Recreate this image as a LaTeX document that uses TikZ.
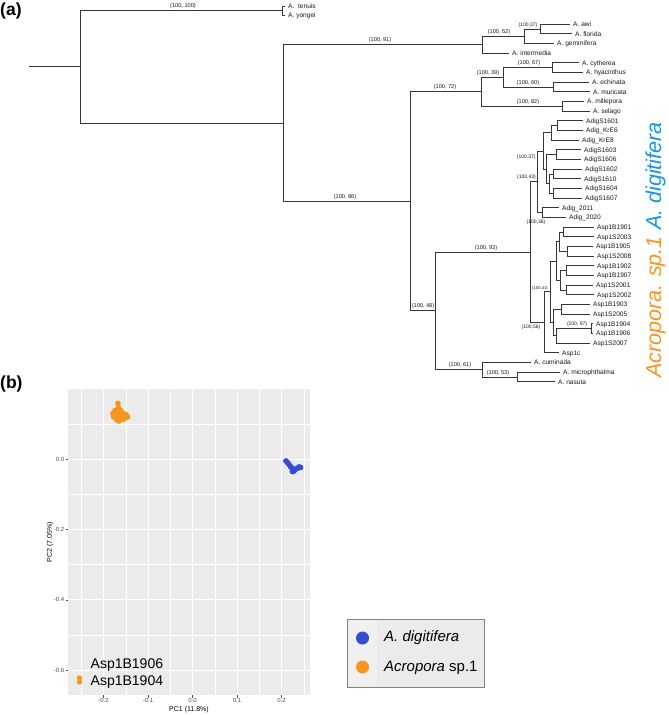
\documentclass[tikz,border=0pt]{standalone}
\usepackage{fontspec}
\setmainfont{Liberation Sans}
\definecolor{treeline}{RGB}{55,55,55}
\definecolor{leaftext}{RGB}{25,25,25}
\definecolor{digiblue}{RGB}{20,150,235}
\definecolor{sporange}{RGB}{247,148,30}
\definecolor{ptblue}{RGB}{52,76,212}
\definecolor{ptorange}{RGB}{246,150,28}
\definecolor{panelgray}{RGB}{235,235,235}
\definecolor{keygray}{RGB}{240,240,240}
\definecolor{tickgray}{RGB}{77,77,77}
\definecolor{legborder}{RGB}{130,130,130}
\tikzset{
  br/.style={draw=treeline, line width=0.65pt},
  leaf/.style={anchor=west, inner xsep=3.5pt, inner ysep=0pt, text height=4.7pt, text depth=0pt, font=\fontsize{6.6}{7}\selectfont, text=leaftext},
  bs/.style={anchor=south, inner sep=0.5pt, font=\fontsize{5.6}{6}\selectfont, text=leaftext},
  bss/.style={bs, font=\fontsize{5}{5.5}\selectfont},
  bsxs/.style={bs, font=\fontsize{4.2}{4.5}\selectfont},
  cladelab/.style={rotate=90, anchor=base, inner sep=0pt, font=\fontsize{21.5}{24}\selectfont\itshape},
  panellab/.style={anchor=base west, inner sep=0pt, font=\fontsize{17.5}{20}\selectfont\bfseries},
  gmaj/.style={draw=white, line width=0.8pt},
  gmin/.style={draw=white, line width=0.35pt},
  tk/.style={draw=tickgray, line width=0.5pt},
  ticklab/.style={inner sep=0.5pt, font=\fontsize{6}{7}\selectfont, text=tickgray},
  axtitle/.style={inner sep=0pt, font=\fontsize{7}{8}\selectfont, text=black},
  pto/.style={fill=ptorange},
  ptb/.style={fill=ptblue},
  leglab/.style={anchor=base west, inner sep=0pt, font=\fontsize{15}{17}\selectfont},
  ptlab/.style={anchor=base west, inner sep=0pt, font=\fontsize{14}{16}\selectfont}
}
\begin{document}
\begin{tikzpicture}[x=1pt,y=-1pt]
\useasboundingbox (0,0) rectangle (669,715);
\fill[white] (0,0) rectangle (669,715);

% ---------- panel labels ----------
\node[panellab] (pa) at (0,15.5) {(a)};
\node[panellab] (pb) at (0,388) {(b)};

% ---------- tree: internal nodes ----------
\coordinate (root) at (29,66.7);
\coordinate (n80) at (80,66.7);
\coordinate (n282) at (282,10.5);
\coordinate (n283) at (283,122.9);
\coordinate (n482a) at (482,44.6);
\coordinate (n524) at (524,36.1);
\coordinate (n540) at (540,28.85);
\coordinate (n410) at (410,201.25);
\coordinate (n481) at (481,91.7);
\coordinate (n503) at (503,77.2);
\coordinate (n552) at (552,67.5);
\coordinate (n553) at (553,86.85);
\coordinate (n562) at (562,106.15);
\coordinate (n435) at (435,310.8);
\coordinate (n530) at (530,251.95);
\coordinate (n43) at (537,181.7);
\coordinate (n37) at (543,150.9);
\coordinate (nA) at (551,132.75);
\coordinate (n1) at (557,125.5);
\coordinate (nB) at (546,169);
\coordinate (n2) at (556,154.5);
\coordinate (n34) at (549,183.5);
\coordinate (n3) at (553,173.85);
\coordinate (n4) at (553,193.15);
\coordinate (n36) at (542,212.5);
\coordinate (n56b) at (544,322.2);
\coordinate (n41) at (550,291.65);
\coordinate (nU) at (556,260.85);
\coordinate (n56) at (559,241.5);
\coordinate (n5) at (563,231.85);
\coordinate (n6) at (567,251.15);
\coordinate (n78) at (560,280.2);
\coordinate (n7) at (566,270.5);
\coordinate (n8) at (566,289.85);
\coordinate (nL) at (553,322.45);
\coordinate (n9) at (561,309.15);
\coordinate (n10) at (556,335.75);
\coordinate (n97) at (591,328.5);
\coordinate (n482b) at (482,369.6);
\coordinate (n517) at (517,376.85);

% ---------- tree: leaves ----------
\foreach \n/\x/\y/\t in {
  tenuis/284.5/6/{A.\ \ tenuis}, yongei/284.5/15/A. yongei,
  awi/569.5/24.0/A. awi, florida/571.5/33.7/A. florida,
  gemmifera/553.5/43.3/A. gemmifera, intermedia/508.5/53.0/A. intermedia,
  cytherea/578.5/62.7/A. cytherea, hyacinthus/582.5/72.3/A. hyacinthus,
  echinata/588.5/82.0/A. echinata, muricata/589.5/91.7/A. muricata,
  millepora/583.5/101.3/A. millepora, selago/589.5/111.0/A. selago,
  s1601/582.5/120.7/AdigS1601, kre6/582.5/130.3/Adig\_KrE6,
  kre8/578.5/140.0/Adig\_KrE8, s1603/580.5/149.7/AdigS1603,
  s1606/580.5/159.3/AdigS1606, s1602/581.5/169.0/AdigS1602,
  s1610/580.5/178.7/AdigS1610, s1604/581.5/188.3/AdigS1604,
  s1607/581.5/198.0/AdigS1607, a2011/558.5/207.7/Adig\_2011,
  a2020/565.5/217.3/Adig\_2020, b1901/593.5/227.0/Asp1B1901,
  s2003/593.5/236.7/Asp1S2003, b1905/592.5/246.3/Asp1B1905,
  s2008/593.5/256.0/Asp1S2008, b1902/593.5/265.7/Asp1B1902,
  b1907/593.5/275.3/Asp1B1907, s2001/592.5/285.0/Asp1S2001,
  s2002/593.5/294.7/Asp1S2002, b1903/589.5/304.3/Asp1B1903,
  s2005/589.5/314.0/Asp1S2005, b1904/592.5/323.7/Asp1B1904,
  b1906/592.5/333.3/Asp1B1906, s2007/589.5/343.0/Asp1S2007,
  asp1c/558.5/352.7/Asp1c, cuminada/530.5/362.3/A. cuminada,
  microph/559.5/372.0/A. microphthalma, nasuta/554.5/381.7/A. nasuta}
  \node[leaf] (\n) at (\x,\y) {\t};

% ---------- tree: branches between internal nodes ----------
\foreach \p/\c in {root/n80, n80/n282, n80/n283, n283/n482a, n283/n410,
  n482a/n524, n524/n540, n410/n481, n410/n435, n481/n503, n481/n562,
  n503/n552, n503/n553, n435/n530, n435/n482b, n530/n43, n530/n56b,
  n43/n37, n43/n36, n37/nA, n37/nB, nA/n1, nB/n2, nB/n34, n34/n3, n34/n4,
  n56b/n41, n41/nU, n41/nL, nU/n56, nU/n78, n56/n5, n56/n6, n78/n7, n78/n8,
  nL/n9, nL/n10, n10/n97, n482b/n517}
  \draw[br] (\p) |- (\c);

% ---------- tree: branches to leaves ----------
\foreach \p/\c in {n282/tenuis, n282/yongei, n540/awi, n540/florida,
  n524/gemmifera, n482a/intermedia, n552/cytherea, n552/hyacinthus,
  n553/echinata, n553/muricata, n562/millepora, n562/selago,
  n1/s1601, n1/kre6, nA/kre8, n2/s1603, n2/s1606, n3/s1602, n3/s1610,
  n4/s1604, n4/s1607, n36/a2011, n36/a2020, n5/b1901, n5/s2003,
  n6/b1905, n6/s2008, n7/b1902, n7/b1907, n8/s2001, n8/s2002,
  n9/b1903, n9/s2005, n97/b1904, n97/b1906, n10/s2007, n56b/asp1c,
  n482b/cuminada, n517/microph, n517/nasuta}
  \draw[br] (\p) |- (\c.west);

% ---------- tree: support labels ----------
\node[bs] (l100) at (183,9) {(100, 100)};
\node[bs] (l91) at (380,43.6) {(100, 91)};
\node[bs] (l52) at (499,35.1) {(100, 52)};
\node[bss] (l37a) at (528,27.9) {(100,37)};
\node[bs] (l72) at (445,90.7) {(100, 72)};
\node[bs] (l39) at (488,76.2) {(100, 39)};
\node[bs] (l67) at (529,66.5) {(100, 67)};
\node[bs] (l60) at (528,85.9) {(100, 60)};
\node[bs] (l82) at (528,105.2) {(100, 82)};
\node[bs] (l86) at (345,200.3) {(100, 86)};
\node[bs] (l93) at (486,251) {(100, 93)};
\node[bs] (l48) at (423,309.8) {(100, 48)};
\node[bs] (l61) at (460,368.6) {(100, 61)};
\node[bs] (l53) at (498,375.9) {(100, 53)};
\node[bss, anchor=south east] (l43) at (536.5,180.7) {(100,43)};
\node[bss, anchor=east] (l37b) at (536.3,157.5) {(100,37)};
\node[bss, anchor=north] (l36) at (536,219) {(100,36)};
\node[bsxs] (l41) at (540,290.6) {(100,41)};
\node[bss, anchor=north] (l56) at (531,324) {(100,56)};
\node[bss] (l97) at (577,327.2) {(100, 97)};

% ---------- clade labels ----------
\node[cladelab, text=digiblue] (cdig) at (661,176) {A. digitifera};
\node[cladelab, text=sporange] (csp) at (661,307) {Acropora. sp.1};

% ---------- PCA panel ----------
\fill[panelgray] (68,389) rectangle (310,695);
\foreach \x in {81.25,125.75,170.25,214.75,259.25,303.75}
  \draw[gmin] (\x,389) -- (\x,695);
\foreach \y in {423.8,494.2,564.6,635}
  \draw[gmin] (68,\y) -- (310,\y);
\foreach \x in {103.5,148,192.5,237,281.5}
  \draw[gmaj] (\x,389) -- (\x,695);
\foreach \y in {459,529.4,599.8,670.2}
  \draw[gmaj] (68,\y) -- (310,\y);
\foreach \x/\t in {103.5/-0.2,148/-0.1,192.5/0.0,237/0.1,281.5/0.2}{
  \draw[tk] (\x,695) -- (\x,697.5);
  \node[ticklab, anchor=north] at (\x,698) {\t};
}
\foreach \y/\t in {459/0.0,529.4/-0.2,599.8/-0.4,670.2/-0.6}{
  \draw[tk] (65.5,\y) -- (68,\y);
  \node[ticklab, anchor=east] at (65,\y) {\t};
}
\node[axtitle] (xt) at (189,709.5) {PC1 (11.8\%)};
\node[axtitle, rotate=90] (yt) at (50,542) {PC2 (7.05\%)};

% orange cluster
\foreach \x/\y in {118/403.5,118.5/408,115/410.5,120.5/410.5,113/413.5,117/413.5,
  122.5/413,126/414.5,115.5/417.5,120.5/416.5,124/419,119/421,127.5/417,
  113.5/416.5,121/419.5,117/420}
  \fill[pto] (\x,\y) circle (2.9);
% blue cluster
\foreach \x/\y in {286/461,287.5/462.5,289/464.5,290.5/466.5,292/468,293.5/470,
  292.5/471.5,295/469.5,297/468.5,299/467,300.5/467.5,294/471}
  \fill[ptb] (\x,\y) circle (2.9);
% outlier pair
\fill[pto] (79.5,678) circle (2.7);
\fill[pto] (79.5,682) circle (2.7);
\node[ptlab] (o1) at (90.5,668) {Asp1B1906};
\node[ptlab] (o2) at (90.5,685) {Asp1B1904};

% ---------- legend ----------
\draw[draw=legborder, fill=panelgray, line width=0.8pt] (347,619) rectangle (484,687);
\fill[keygray] (348.5,620.5) rectangle (377,685.5);
\fill[ptblue] (362.5,638) circle (6.5);
\fill[ptorange] (362.5,667) circle (6.5);
\node[leglab] (lg1) at (384,641.5) {\textit{A. digitifera}};
\node[leglab] (lg2) at (384,671.5) {\textit{Acropora} sp.1};
\end{tikzpicture}
\end{document}
